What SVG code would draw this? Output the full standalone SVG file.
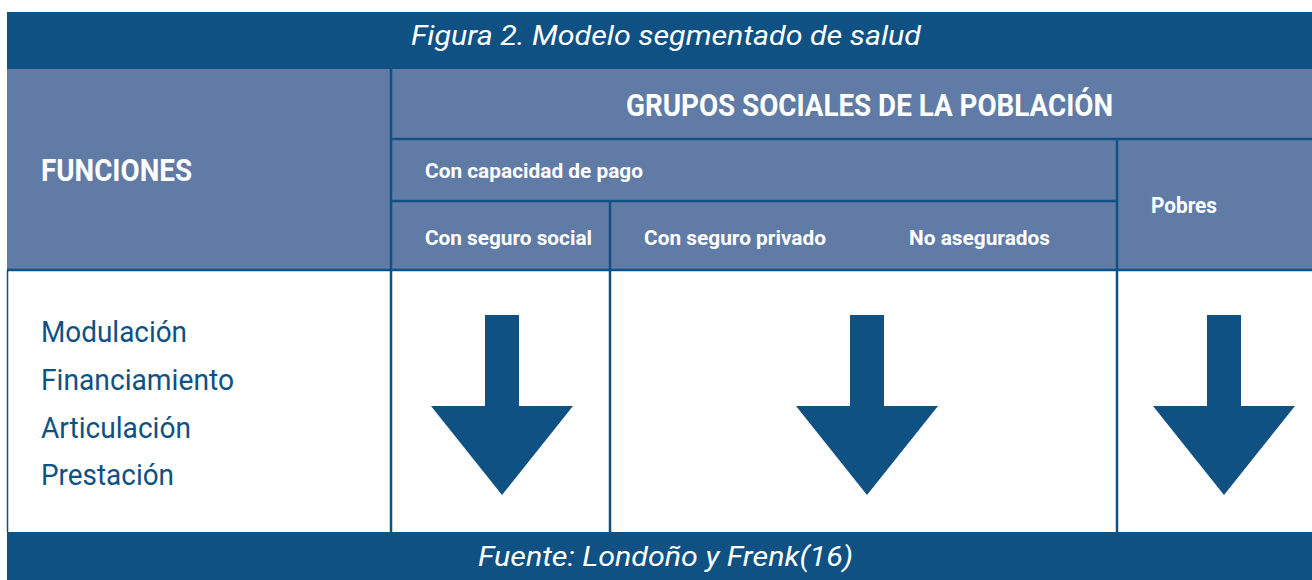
<svg xmlns="http://www.w3.org/2000/svg" width="1312" height="580" viewBox="0 0 1312 580">
<style>
.dark{fill:#0f5183}
.mid{fill:#607ba5}
.ln{stroke:#0f5183;stroke-width:2.5;fill:none}
.h{font-family:Roboto,"Liberation Sans",sans-serif;font-weight:bold;fill:#ffffff}
.it{font-family:Roboto,"Liberation Sans",sans-serif;font-style:italic;fill:#ffffff}
.b{font-family:Roboto,"Liberation Sans",sans-serif;fill:#0f5183;font-size:30px}
</style>
<defs>
<path id="arr" d="M-17,0 H17 V91 H71 L0,180 L-71,91 H-17 Z"/>
</defs>
<rect width="1312" height="580" fill="#ffffff"/>
<g id="title">
<rect x="7" y="12" width="1305" height="57" class="dark"/>
<text x="411" y="45" class="it" font-size="28" textLength="510" lengthAdjust="spacingAndGlyphs">Figura 2. Modelo segmentado de salud</text>
</g>
<g id="header">
<rect x="7" y="69" width="1305" height="201" class="mid"/>
</g>
<g id="body">
<rect x="7" y="270" width="1305" height="262" fill="#ffffff"/>
</g>
<g id="footer">
<rect x="7" y="532" width="1305" height="48" class="dark"/>
<text x="478" y="566" class="it" font-size="28" textLength="375" lengthAdjust="spacingAndGlyphs">Fuente: Londoño y Frenk(16)</text>
</g>
<g id="grid">
<line x1="391" y1="69" x2="391" y2="532" class="ln"/>
<line x1="391" y1="139" x2="1312" y2="139" class="ln"/>
<line x1="391" y1="201" x2="1117" y2="201" class="ln"/>
<line x1="1117" y1="139" x2="1117" y2="532" class="ln"/>
<line x1="610" y1="201" x2="610" y2="532" class="ln"/>
<line x1="7" y1="270" x2="1312" y2="270" class="ln"/>
<line x1="7.5" y1="270" x2="7.5" y2="532" stroke="#0f5183" stroke-width="1.5"/>
</g>
<g id="funciones">
<text x="41" y="181" class="h" font-size="32" textLength="151" lengthAdjust="spacingAndGlyphs">FUNCIONES</text>
</g>
<g id="grupos">
<text x="626" y="116" class="h" font-size="32" textLength="487" lengthAdjust="spacingAndGlyphs">GRUPOS SOCIALES DE LA POBLACIÓN</text>
</g>
<g id="capacidad">
<text x="425" y="178" class="h" font-size="21" textLength="218" lengthAdjust="spacingAndGlyphs">Con capacidad de pago</text>
</g>
<g id="seguro-social">
<text x="425" y="245" class="h" font-size="21" textLength="167" lengthAdjust="spacingAndGlyphs">Con seguro social</text>
</g>
<g id="seguro-privado">
<text x="644" y="245" class="h" font-size="21" textLength="182" lengthAdjust="spacingAndGlyphs">Con seguro privado</text>
</g>
<g id="no-asegurados">
<text x="909" y="245" class="h" font-size="21" textLength="141" lengthAdjust="spacingAndGlyphs">No asegurados</text>
</g>
<g id="pobres">
<text x="1151" y="213" class="h" font-size="22" textLength="66" lengthAdjust="spacingAndGlyphs">Pobres</text>
</g>
<g id="funciones-list">
<text x="41" y="342" class="b" textLength="146" lengthAdjust="spacingAndGlyphs">Modulación</text>
<text x="41" y="390" class="b" textLength="193" lengthAdjust="spacingAndGlyphs">Financiamiento</text>
<text x="41" y="438" class="b" textLength="150" lengthAdjust="spacingAndGlyphs">Articulación</text>
<text x="41" y="485" class="b" textLength="133" lengthAdjust="spacingAndGlyphs">Prestación</text>
</g>
<g id="arrows" class="dark">
<use href="#arr" x="502" y="315"/>
<use href="#arr" x="867" y="315"/>
<use href="#arr" x="1224" y="315"/>
</g>
</svg>
